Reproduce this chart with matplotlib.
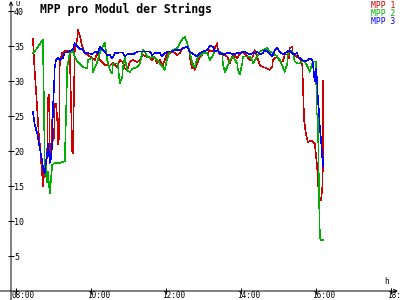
import matplotlib
matplotlib.use("Agg")
import matplotlib.pyplot as plt
from matplotlib.transforms import ScaledTranslation

# ==== DATEN (Spannung pro Modul, V) ====
mpp1_time = ["08:27", "08:29", "08:32", "08:34", "08:37", "08:38", "08:40", "08:42", "08:43", "08:45",
             "08:46", "08:48", "08:50", "08:51", "08:53", "08:54", "08:56", "08:58", "08:59", "09:01",
             "09:02", "09:04", "09:06", "09:07", "09:09", "09:10", "09:14", "09:18", "09:23", "09:26",
             "09:30", "09:31", "09:34", "09:38", "09:39", "09:42", "09:46", "09:50", "09:55", "10:02",
             "10:06", "10:10", "10:14", "10:19", "10:22", "10:30", "10:35", "10:42", "10:46", "10:51",
             "10:54", "10:58", "11:02", "11:07", "11:14", "11:18", "11:23", "11:30", "11:34", "11:38",
             "11:42", "11:46", "11:50", "11:55", "11:58", "12:02", "12:06", "12:11", "12:18", "12:22",
             "12:27", "12:34", "12:37", "12:38", "12:42", "12:43", "12:46", "12:50", "12:54", "12:59",
             "13:06", "13:10", "13:15", "13:22", "13:23", "13:26", "13:31", "13:38", "13:42", "13:46",
             "13:47", "13:54", "13:58", "14:03", "14:10", "14:14", "14:19", "14:22", "14:26", "14:30",
             "14:35", "14:42", "14:46", "14:50", "14:51", "14:58", "15:02", "15:07", "15:10", "15:14",
             "15:17", "15:18", "15:22", "15:23", "15:30", "15:34", "15:38", "15:39", "15:41", "15:44",
             "15:46", "15:47", "15:54", "15:55", "15:58", "16:00", "16:02", "16:03", "16:05", "16:08",
             "16:10", "16:11", "16:11"]
mpp1_volt = [36.1, 32.7, 28.7, 25.9, 21.6, 21.0, 18.7, 16.5, 15.0, 17.0,
             16.3, 17.5, 20.0, 27.5, 28.0, 18.6, 20.0, 24.5, 21.5, 22.0,
             26.8, 26.8, 24.5, 21.0, 22.0, 32.6, 34.0, 34.3, 34.3, 34.0,
             20.0, 19.7, 34.4, 36.0, 37.3, 36.5, 34.9, 34.0, 33.7, 33.3,
             33.0, 34.0, 33.0, 32.6, 32.3, 32.2, 32.6, 32.0, 33.0, 32.7,
             31.8, 31.6, 32.7, 33.0, 32.7, 33.0, 33.7, 33.4, 33.4, 33.0,
             33.4, 32.5, 33.0, 32.3, 33.0, 34.0, 34.0, 34.2, 33.7, 34.0,
             34.7, 34.9, 34.4, 33.4, 31.8, 32.5, 31.6, 32.5, 33.4, 33.9,
             33.9, 34.4, 34.2, 35.4, 34.4, 33.8, 33.8, 33.5, 32.5, 33.5,
             33.8, 33.3, 33.8, 34.2, 33.5, 33.0, 33.5, 34.4, 33.5, 32.3,
             32.0, 31.8, 31.6, 32.0, 33.0, 33.5, 32.8, 32.8, 33.8, 33.8,
             33.3, 34.7, 34.9, 33.9, 33.4, 33.2, 32.3, 29.7, 24.4, 22.3,
             21.6, 21.3, 21.5, 21.3, 21.0, 19.4, 17.5, 15.9, 13.0, 13.0,
             14.7, 17.8, 30.1]

mpp2_time = ["08:27", "08:32", "08:38", "08:43", "08:45", "08:46", "08:48", "08:50", "08:51", "08:53",
             "08:54", "08:56", "08:58", "09:02", "09:10", "09:18", "09:20", "09:22", "09:26", "09:31",
             "09:34", "09:38", "09:42", "09:47", "09:54", "09:55", "10:02", "10:03", "10:10", "10:14",
             "10:19", "10:22", "10:26", "10:30", "10:34", "10:35", "10:42", "10:43", "10:46", "10:50",
             "10:51", "10:54", "10:58", "11:02", "11:07", "11:14", "11:18", "11:23", "11:26", "11:30",
             "11:34", "11:39", "11:46", "11:50", "11:55", "11:58", "12:02", "12:06", "12:11", "12:18",
             "12:22", "12:27", "12:30", "12:34", "12:35", "12:38", "12:42", "12:46", "12:51", "12:54",
             "12:59", "13:06", "13:10", "13:14", "13:18", "13:23", "13:30", "13:31", "13:34", "13:38",
             "13:42", "13:47", "13:54", "13:55", "13:58", "14:02", "14:03", "14:10", "14:14", "14:18",
             "14:19", "14:26", "14:30", "14:35", "14:42", "14:46", "14:51", "14:58", "15:02", "15:07",
             "15:10", "15:14", "15:15", "15:18", "15:23", "15:26", "15:30", "15:34", "15:38", "15:42",
             "15:47", "15:50", "15:54", "15:55", "16:00", "16:01", "16:03", "16:05", "16:06", "16:07",
             "16:11"]
mpp2_volt = [34.0, 34.5, 35.3, 35.9, 25.0, 16.6, 17.7, 15.5, 17.0, 15.0,
             14.0, 16.0, 18.0, 18.3, 18.3, 18.5, 25.0, 32.0, 34.0, 34.3,
             33.5, 32.8, 32.5, 32.0, 31.8, 33.0, 33.3, 31.3, 32.7, 34.0,
             35.0, 35.5, 33.0, 31.6, 31.1, 32.5, 32.5, 32.3, 29.7, 30.5,
             32.0, 33.3, 31.5, 31.3, 31.8, 32.0, 32.5, 34.4, 34.2, 33.5,
             33.3, 33.5, 33.0, 32.5, 32.0, 31.6, 33.2, 34.1, 34.4, 34.7,
             35.4, 36.1, 36.3, 35.4, 34.9, 34.2, 32.5, 32.0, 33.5, 33.5,
             34.0, 34.0, 33.0, 33.5, 34.2, 34.2, 34.0, 32.5, 31.3, 32.0,
             33.0, 33.5, 32.5, 31.6, 30.9, 32.5, 33.5, 33.5, 33.5, 33.0,
             32.5, 33.5, 34.2, 34.4, 34.7, 34.2, 34.0, 33.5, 33.0, 32.0,
             31.3, 32.5, 34.0, 34.4, 34.0, 32.8, 32.5, 32.5, 32.8, 32.8,
             32.0, 31.3, 32.5, 32.8, 32.8, 25.4, 25.2, 12.8, 8.7, 7.3,
             7.3]

mpp3_time = ["08:27", "08:30", "08:34", "08:35", "08:38", "08:40", "08:42", "08:43", "08:45", "08:46",
             "08:48", "08:50", "08:51", "08:53", "08:54", "08:56", "08:58", "08:59", "09:01", "09:02",
             "09:04", "09:07", "09:10", "09:15", "09:18", "09:23", "09:26", "09:31", "09:34", "09:38",
             "09:42", "09:46", "09:50", "09:55", "10:02", "10:06", "10:11", "10:14", "10:19", "10:26",
             "10:30", "10:34", "10:38", "10:43", "10:46", "10:51", "10:54", "10:58", "11:02", "11:07",
             "11:14", "11:23", "11:34", "11:38", "11:42", "11:50", "11:54", "11:58", "12:03", "12:10",
             "12:14", "12:22", "12:27", "12:34", "12:38", "12:43", "12:50", "12:54", "12:59", "13:06",
             "13:10", "13:15", "13:18", "13:23", "13:26", "13:31", "13:38", "13:42", "13:47", "13:54",
             "13:58", "14:03", "14:10", "14:14", "14:19", "14:26", "14:30", "14:35", "14:38", "14:43",
             "14:50", "14:54", "14:58", "15:02", "15:07", "15:14", "15:18", "15:23", "15:30", "15:31",
             "15:38", "15:42", "15:47", "15:50", "15:54", "15:55", "15:58", "16:00", "16:02", "16:03",
             "16:05", "16:06", "16:08", "16:10", "16:11", "16:11"]
mpp3_volt = [25.6, 23.8, 22.5, 22.0, 20.4, 19.5, 18.5, 17.8, 17.0, 16.8,
             18.5, 19.7, 21.1, 19.5, 18.3, 19.0, 21.0, 26.0, 29.5, 32.0,
             33.0, 33.3, 33.0, 33.3, 34.1, 34.1, 34.3, 34.5, 35.4, 35.0,
             34.6, 34.6, 34.0, 34.0, 33.8, 34.2, 34.0, 34.9, 34.5, 33.7,
             33.7, 33.2, 34.0, 34.0, 34.1, 34.1, 33.5, 33.8, 33.9, 33.8,
             34.2, 34.2, 34.2, 33.7, 34.0, 34.0, 33.5, 34.0, 34.2, 34.2,
             34.4, 34.4, 34.7, 34.9, 34.2, 33.9, 33.5, 34.0, 34.2, 34.4,
             35.1, 34.9, 34.2, 34.4, 34.0, 33.8, 34.0, 34.0, 33.8, 34.0,
             34.0, 34.2, 34.0, 33.8, 34.0, 34.2, 33.8, 34.0, 34.4, 34.2,
             33.5, 34.4, 34.7, 34.2, 33.8, 34.2, 34.4, 33.8, 34.0, 33.5,
             33.0, 32.8, 33.0, 33.2, 33.0, 32.5, 29.9, 31.8, 29.7, 27.3,
             25.4, 23.5, 21.6, 19.2, 17.8, 19.0]

series_names = ["MPP 1", "MPP 2", "MPP 3"]
series_colors = ["#cc0000", "#00b000", "#0000ff"]

x_ticks = [8, 10, 12, 14, 16, 18]
x_tick_labels = ["08:00", "10:00", "12:00", "14:00", "16:00", "18:00"]
y_ticks = [5, 10, 15, 20, 25, 30, 35, 40]
# =======================


def to_hours(times):
    return [int(t[:2]) + int(t[3:]) / 60 for t in times]


def main():
    plt.rcParams["font.family"] = "DejaVu Sans Mono"

    fig = plt.figure(figsize=(4, 3), dpi=100)
    ax = fig.add_axes([11 / 400, 9 / 300, 387 / 400, 290 / 300])
    ax.set_xlim(7.8667, 18.1867)
    ax.set_ylim(0, 41.43)

    for t, v, c in zip([mpp1_time, mpp2_time, mpp3_time],
                       [mpp1_volt, mpp2_volt, mpp3_volt], series_colors):
        ax.plot(to_hours(t), v, color=c, lw=0.4, antialiased=False)

    for s in ax.spines.values():
        s.set_visible(False)

    # Achsen mit Pfeilen
    arrow = dict(arrowstyle="->", lw=0.7, color="black", shrinkA=0, shrinkB=0,
                 mutation_scale=6)
    ax.annotate("", xy=(1, 0), xytext=(-0.03, 0), xycoords="axes fraction",
                arrowprops=arrow, annotation_clip=False)
    ax.annotate("", xy=(0, 1), xytext=(0, -0.032), xycoords="axes fraction",
                arrowprops=arrow, annotation_clip=False)

    ax.set_xticks(x_ticks)
    ax.set_xticklabels(x_tick_labels)
    ax.set_yticks(y_ticks)
    ax.set_yticklabels([str(v) for v in y_ticks])
    ax.tick_params(direction="inout", length=4.3, width=0.7, labelsize=5.5)
    ax.tick_params(axis="x", pad=-1.8)
    ax.tick_params(axis="y", pad=-4.3, labelsize=6.0)

    shift = ScaledTranslation(-4 / 100, 0, fig.dpi_scale_trans)
    for lbl in ax.get_xticklabels():
        lbl.set_ha("left")
        lbl.set_transform(lbl.get_transform() + shift)
    for lbl in ax.get_yticklabels():
        lbl.set_ha("left")

    fig.text(15 / 400, 1 - 0.5 / 300, "U", fontsize=5, ha="left", va="top")
    fig.text(387 / 400, 1 - 277 / 300, "h", fontsize=5.5, ha="center", va="top")

    fig.text(40 / 400, 1 - 3 / 300, "MPP pro Modul der Strings",
             fontsize=8.3, fontweight="bold", ha="left", va="top")

    for i, (name, c) in enumerate(zip(series_names, series_colors)):
        fig.text(395 / 400, 1 - (1.5 + 7.7 * i) / 300, name, color=c,
                 fontsize=5.8, ha="right", va="top")

    fig.savefig("out.png", dpi=100)


if __name__ == "__main__":
    main()
